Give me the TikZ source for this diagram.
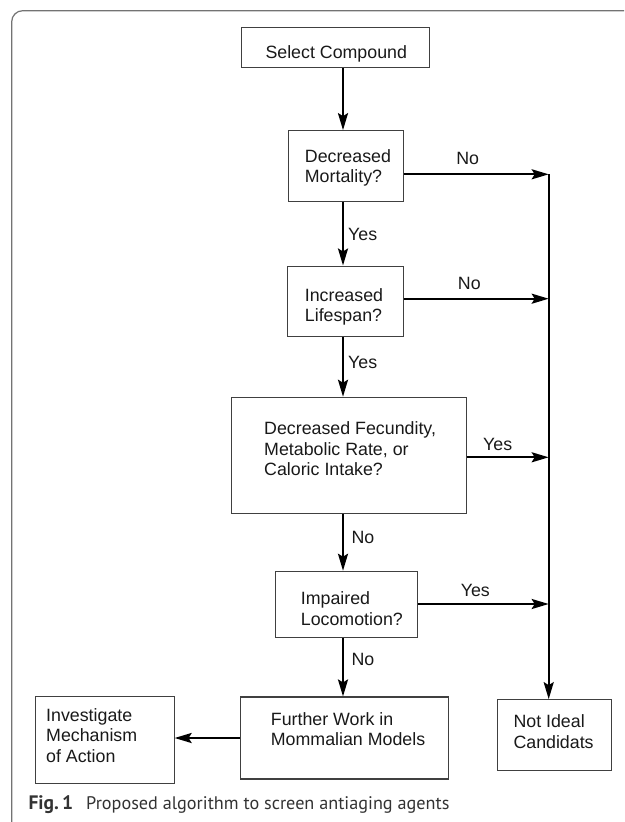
\documentclass[tikz,border=0pt]{standalone}
\usepackage{fontspec}
\setmainfont{Liberation Sans}
\newfontfamily\capfont{PT Sans}
\usetikzlibrary{arrows.meta}
\begin{document}
\begin{tikzpicture}[x=1pt,y=-1pt,
  boxst/.style={draw=black!75, line width=1.1pt, inner sep=0pt},
  txt/.style={anchor=base west, align=left, inner sep=0pt, text=black!90,
    font=\fontsize{17.8}{20.5}\selectfont},
  lbl/.style={anchor=base, inner sep=0pt, text=black!90,
    font=\fontsize{17.8}{20.5}\selectfont},
  arr/.style={line width=2.3pt, -{Stealth[length=17pt,width=10pt,inset=3pt]}},
  frame/.style={draw=black!55, line width=1.2pt}]
\useasboundingbox (0,0) rectangle (624,822);
% frame
\draw[frame, rounded corners=11pt] (11.7,822) -- (11.7,10.7) -- (624,10.7);
% boxes
\node[boxst, minimum width=188pt, minimum height=40.4pt] (sel) at (335.3,47.5) {};
\node[boxst, minimum width=115.3pt, minimum height=70.6pt] (mort) at (345.7,166) {};
\node[boxst, minimum width=115.7pt, minimum height=70.7pt] (life) at (345.2,301.4) {};
\node[boxst, minimum width=234.7pt, minimum height=116pt] (fec) at (348.7,455.3) {};
\node[boxst, minimum width=142pt, minimum height=66pt] (loco) at (346.7,604.3) {};
\node[boxst, minimum width=208.3pt, minimum height=82pt] (fur) at (344.2,738) {};
\node[boxst, minimum width=138.3pt, minimum height=86.7pt] (inv) at (104.9,739.7) {};
\node[boxst, minimum width=113.3pt, minimum height=70.6pt] (nid) at (554.4,735) {};
% texts (base = baseline of last line)
\node[txt] (tsel) at (265.3,58.3) {Select Compound};
\node[txt] (tmort) at (304.7,182.7) {Decreased\\Mortality?};
\node[txt] (tlife) at (304.7,321.7) {Increased\\Lifespan?};
\node[txt] (tfec) at (264,475.7) {Decreased Fecundity,\\Metabolic Rate, or\\Caloric Intake?};
\node[txt] (tloco) at (300.7,625) {Impaired\\Locomotion?};
\node[txt] (tfur) at (270.7,745.7) {Further Work in\\Mommalian Models};
\node[txt] (tinv) at (46,762.3) {Investigate\\Mechanism\\of Action};
\node[txt] (tnid) at (513.3,748) {Not Ideal\\Candidats};
% coordinates
\coordinate (col) at (343,0);
\coordinate (b1) at (548.7,174.3);
\coordinate (b2) at (548.7,298.7);
\coordinate (b3) at (548.7,457.3);
\coordinate (b4) at (548.7,604);
% vertical arrows
\draw[arr] (sel.south -| col) -- (mort.north -| col);
\draw[arr] (mort.south -| col) -- (life.north -| col);
\draw[arr] (life.south -| col) -- (fec.north -| col);
\draw[arr] (fec.south -| col) -- (loco.north -| col);
\draw[arr] (loco.south -| col) -- (fur.north -| col);
% side arrows
\draw[arr] (mort.east |- b1) -- (b1);
\draw[arr] (life.east |- b2) -- (b2);
\draw[arr] (fec.east |- b3) -- (b3);
\draw[arr] (loco.east |- b4) -- (b4);
\draw[arr] (b1) -- (nid.north -| b1);
\draw[arr] (fur.west) -- (inv.east |- fur.west);
% labels
\node[txt] (y1) at (348,240) {Yes};
\node[lbl] (n1) at (467.7,164) {No};
\node[lbl] (n2) at (469.3,289.3) {No};
\node[txt] (y2) at (348,368.3) {Yes};
\node[lbl] (y3) at (497.7,450) {Yes};
\node[txt] (n3) at (351.3,543.3) {No};
\node[lbl] (y4) at (475.3,596.7) {Yes};
\node[txt] (n4) at (351.3,665) {No};
% caption
\node[anchor=base west, inner sep=0pt, text=black!80, font=\capfont\fontsize{18.2}{20}\selectfont] (cap) at (28.3,809)
  {{\fontsize{19.5}{20}\selectfont\textbf{Fig.\,1}}\hspace{13pt}Proposed algorithm to screen antiaging agents};
\end{tikzpicture}
\end{document}
